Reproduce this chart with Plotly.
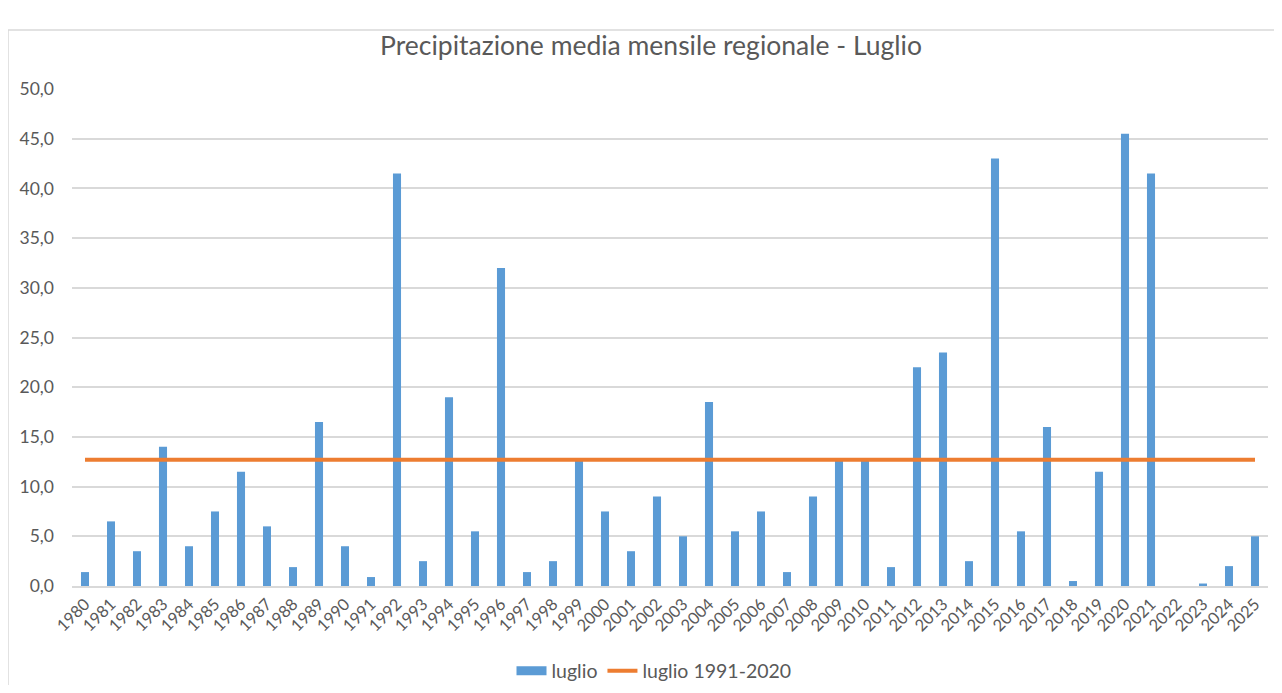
import plotly.graph_objects as go

years = [str(y) for y in range(1980, 2026)]
luglio = [1.4, 6.5, 3.5, 14.0, 4.0, 7.5, 11.5, 6.0, 1.9, 16.5,
          4.0, 0.9, 41.5, 2.5, 19.0, 5.5, 32.0, 1.4, 2.5, 12.6,
          7.5, 3.5, 9.0, 5.0, 18.5, 5.5, 7.5, 1.4, 9.0, 12.6,
          12.6, 1.9, 22.0, 23.5, 2.5, 43.0, 5.5, 16.0, 0.5, 11.5,
          45.5, 41.5, 0.0, 0.25, 2.0, 5.0]
normale_1991_2020 = 12.7
normale = [normale_1991_2020 for _ in years]

title = "Precipitazione media mensile regionale - Luglio"
FONT = "Lato"
GREY = "#595959"
BLUE = "#5B9BD5"
ORANGE = "#ED7D31"

fig = go.Figure()
fig.add_trace(go.Bar(x=years, y=luglio, name="luglio", showlegend=False,
                     marker=dict(color=BLUE, line=dict(width=0)),
                     width=0.31))
# legend proxy for the bar series (wide rectangle swatch like Excel)
fig.add_trace(go.Scatter(x=[None], y=[None], name="luglio", mode="lines",
                         line=dict(color=BLUE, width=9)))
fig.add_trace(go.Scatter(x=years, y=normale, name="luglio 1991-2020", mode="lines",
                         line=dict(color=ORANGE, width=4)))

W, H = 1266, 677
L, R, T, B = 64, 6, 81, 99
pw, ph = W - L - R, H - T - B

def px_x(fx):
    return (fx - L) / pw

def px_y(fy):
    return (H - B - fy) / ph

fig.update_layout(
    width=W, height=H,
    margin=dict(l=L, r=R, t=T, b=B, autoexpand=False),
    paper_bgcolor="white", plot_bgcolor="white",
    separators=",.",
    font=dict(family=FONT, color=GREY),
    title=dict(text=title, x=px_x(643), xanchor="center", xref="paper",
               y=1 - 38 / H, yanchor="middle",
               font=dict(family=FONT, size=26.5, color=GREY)),
    showlegend=True,
    legend=dict(orientation="h", x=px_x(646), xanchor="center", y=px_y(663), yanchor="middle",
                font=dict(family=FONT, size=19.5, color=GREY), traceorder="normal",
                itemwidth=30),
    xaxis=dict(type="category", tickangle=-45, tickfont=dict(family=FONT, size=16.5, color=GREY),
               showgrid=False, showline=True, linecolor="#D9D9D9", linewidth=2,
               ticks="", range=[-0.5, 45.5]),
    yaxis=dict(range=[0, 50], dtick=5, tickformat=".1f",
               tickfont=dict(family=FONT, size=17.5, color=GREY),
               showgrid=True, gridcolor="#D9D9D9", gridwidth=1.5,
               zeroline=False, showline=False, ticks="", ticklabelstandoff=17),
    shapes=[
        dict(type="line", xref="paper", yref="paper", x0=px_x(0), x1=px_x(W + 20),
             y0=px_y(22), y1=px_y(22), line=dict(color="#D9D9D9", width=1.5)),
        dict(type="line", xref="paper", yref="paper", x0=px_x(0), x1=px_x(0),
             y0=px_y(22), y1=px_y(H + 20), line=dict(color="#D9D9D9", width=1.5)),
    ],
)

fig.write_html("out.html")
